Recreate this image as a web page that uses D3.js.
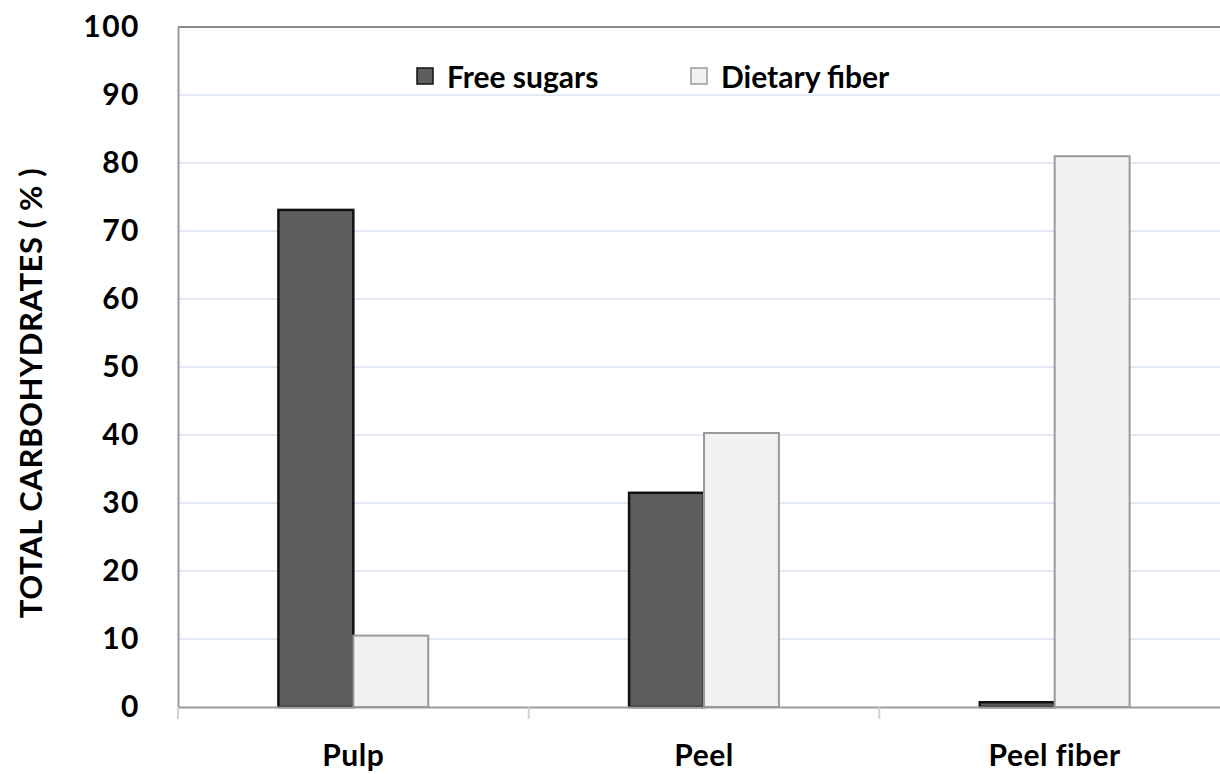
<!DOCTYPE html>
<html><head><meta charset="utf-8">
<script src="https://cdn.jsdelivr.net/npm/d3@7"></script>
<style>body{margin:0;background:#fff}svg{display:block}text{font-family:Lato,"Open Sans",sans-serif;font-weight:bold;fill:#000}</style>
</head><body><svg id="c" width="1220" height="774"></svg>
<script>
const categories = ["Pulp", "Peel", "Peel fiber"];
const seriesNames = ["Free sugars", "Dietary fiber"];
const freeSugars = [73.1, 31.5, 0.7];
const dietaryFiber = [10.5, 40.3, 81.0];
const yTicks = [0, 10, 20, 30, 40, 50, 60, 70, 80, 90, 100];
const yTitle = "TOTAL CARBOHYDRATES ( % )";

(function () {
const svg = d3.select("#c");
const mL = 178, mR = 1230, mT = 27, mB = 707;
const x = d3.scaleBand().domain(categories).range([mL, mR]).paddingInner(0).paddingOuter(0);
const y = d3.scaleLinear().domain([0, 100]).range([mB, mT]);
const inner = d3.scaleBand().domain(seriesNames).range([0, x.bandwidth()]).paddingInner(0).paddingOuter(1.34);

svg.append("g").selectAll("line").data(yTicks.filter(d => d > 0 && d < 100)).join("line")
  .attr("x1", mL).attr("x2", 1220).attr("y1", d => y(d)).attr("y2", d => y(d))
  .attr("stroke", "#d6e2f0").attr("stroke-width", 1.5);

svg.append("line").attr("x1", mL).attr("x2", 1220).attr("y1", y(100)).attr("y2", y(100))
  .attr("stroke", "#8a8a8a").attr("stroke-width", 2);

const data = categories.map((c, i) => ({c, vals: [freeSugars[i], dietaryFiber[i]]}));
const styles = [{fill: "#5e5e5e", stroke: "#111", sw: 2.5}, {fill: "#f1f1f1", stroke: "#9a9a9a", sw: 2}];
const g = svg.append("g");
data.forEach(d => {
  d.vals.forEach((v, j) => {
    g.append("rect")
      .attr("x", x(d.c) + inner(seriesNames[j]))
      .attr("width", inner.bandwidth())
      .attr("y", y(v)).attr("height", y(0) - y(v))
      .attr("fill", styles[j].fill).attr("stroke", styles[j].stroke).attr("stroke-width", styles[j].sw);
  });
});

const yAxis = d3.axisLeft(y).tickValues(yTicks).tickSize(0).tickPadding(38);
const ya = svg.append("g").attr("transform", `translate(${mL},0)`).call(yAxis);
ya.select(".domain").attr("stroke", "#9a9a9a").attr("stroke-width", 2);
ya.selectAll("text").style("font-size", "30px").style("letter-spacing", "1.5px");

const xAxis = d3.axisBottom(x).tickSize(0).tickPadding(38);
const xa = svg.append("g").attr("transform", `translate(0,${mB})`).call(xAxis);
xa.select(".domain").attr("stroke", "#9a9a9a").attr("stroke-width", 2);
xa.selectAll("text").style("font-size", "30px").style("letter-spacing", "0.5px");
svg.append("g").selectAll("line").data(categories).join("line")
  .attr("x1", d => x(d)).attr("x2", d => x(d)).attr("y1", mB).attr("y2", mB + 12)
  .attr("stroke", "#d0d0d0").attr("stroke-width", 2);

svg.append("text").attr("transform", "translate(42,393) rotate(-90)")
  .attr("text-anchor", "middle").style("font-size", "31px").style("letter-spacing", "0.6px").text(yTitle);

const legX = [417, 691];
seriesNames.forEach((s, j) => {
  const lg = svg.append("g").attr("transform", `translate(${legX[j]},68)`);
  lg.append("rect").attr("x", 0).attr("y", 0).attr("width", 16).attr("height", 16)
    .attr("fill", styles[j].fill).attr("stroke", j ? "#999" : "#111").attr("stroke-width", 1.5);
  lg.append("text").attr("x", 30).attr("y", 20).style("font-size", "30px").text(s);
});
})();
</script></body></html>
